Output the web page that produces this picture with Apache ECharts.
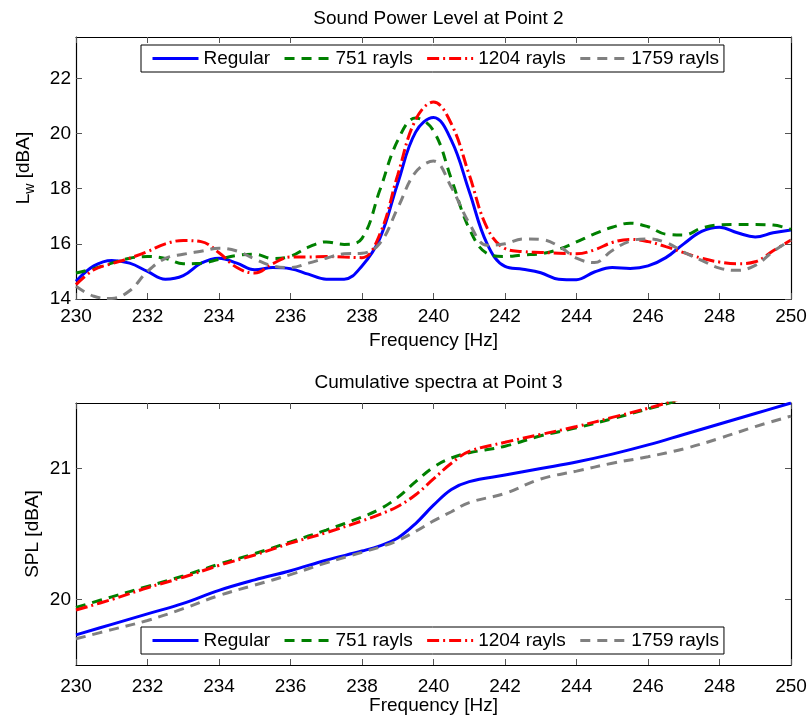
<!DOCTYPE html>
<html>
<head>
<meta charset="utf-8">
<script src="https://cdn.jsdelivr.net/npm/echarts@6/dist/echarts.min.js"></script>
<style>html,body{margin:0;padding:0;background:#fff}#c{width:808px;height:718px}</style>
</head>
<body>
<div id="c"></div>
<script>
// ---------- data ----------
const seriesNames = ['Regular', '751 rayls', '1204 rayls', '1759 rayls'];
const xTicks = [230, 232, 234, 236, 238, 240, 242, 244, 246, 248, 250];
const yTicksTop = [14, 16, 18, 20, 22];
const yTicksBottom = [20, 21];

// Top chart: Sound Power Level at Point 2
const freqTop = [230,230.5,231,231.5,232,232.5,233,233.5,234,234.5,235,235.5,236,236.5,237,237.5,238,238.5,239,239.5,240,240.5,241,241.5,242,242.5,243,243.5,244,244.5,245,245.5,246,246.5,247,247.5,248,248.5,249,249.5,250];
const regularTop = [14.64,15.2,15.4,15.3,15.0,14.72,14.85,15.3,15.48,15.3,15.06,15.14,15.1,14.9,14.72,14.72,15.2,16.2,18.2,20.05,20.58,19.75,17.9,16.0,15.18,15.08,14.95,14.72,14.7,14.98,15.14,15.11,15.2,15.5,16.0,16.45,16.6,16.4,16.25,16.4,16.5];
const r751Top = [14.94,15.1,15.3,15.48,15.54,15.47,15.28,15.3,15.44,15.58,15.62,15.47,15.55,15.88,16.07,15.98,16.2,17.95,19.75,20.56,20.1,18.35,16.55,15.65,15.54,15.6,15.64,15.8,16.07,16.36,16.6,16.75,16.62,16.35,16.32,16.57,16.69,16.7,16.7,16.68,16.52];
const r1204Top = [14.52,15.06,15.28,15.48,15.72,16.0,16.12,16.08,15.68,15.14,14.94,15.28,15.52,15.52,15.54,15.52,15.5,16.35,18.5,20.5,21.14,20.35,18.5,16.58,15.83,15.72,15.69,15.66,15.64,15.78,16.05,16.16,16.08,15.9,15.68,15.48,15.34,15.28,15.35,15.75,16.14];
const r1759Top = [14.46,14.1,14.02,14.3,15.0,15.47,15.62,15.73,15.84,15.74,15.45,15.2,15.14,15.3,15.48,15.64,15.66,16.02,17.3,18.6,19.0,18.05,16.75,15.95,16.0,16.18,16.16,15.92,15.48,15.32,15.76,16.1,16.18,16.05,15.7,15.4,15.12,15.04,15.22,15.72,16.14];

// Bottom chart: Cumulative spectra at Point 3
const freqBottom = [230,231,232,233,234,235,236,237,238,238.5,239,239.5,240,240.5,241,242,243,244,245,246,247,248,249,250];
const regularBottom = [19.73,19.81,19.89,19.97,20.07,20.15,20.22,20.3,20.37,20.41,20.47,20.58,20.72,20.84,20.9,20.95,21.0,21.05,21.11,21.18,21.26,21.34,21.42,21.5];
const r1759Bottom = [19.70,19.77,19.84,19.93,20.03,20.11,20.19,20.28,20.36,20.4,20.45,20.52,20.6,20.67,20.74,20.81,20.92,20.98,21.04,21.09,21.15,21.23,21.32,21.40];
const freqBottomShort = [230,231,232,233,234,235,236,237,238,238.5,239,239.5,240,240.5,241,242,243,244,245,246,247];
const r751Bottom = [19.94,20.02,20.1,20.18,20.27,20.35,20.44,20.53,20.63,20.69,20.78,20.9,21.01,21.08,21.12,21.17,21.25,21.31,21.38,21.455,21.53];
const r1204Bottom = [19.92,20.0,20.09,20.17,20.26,20.34,20.43,20.51,20.6,20.65,20.71,20.8,20.92,21.04,21.13,21.2,21.26,21.32,21.39,21.46,21.54];

// ---------- styles ----------
const FONT = 'Liberation Sans, Arial, Helvetica, sans-serif';
const FS = 19;
const colors = ['#0000ff', '#008000', '#ff0000', '#808080'];
const dashes = ['solid', [10, 7], [12, 4, 2, 4], [10, 7]];

function zip(xs, ys) { return xs.map((x, i) => [x, ys[i]]); }

function xAx(grid, pos, labelMargin, nameGap) {
  const bottom = pos === 'bottom';
  return {
    type: 'value', gridIndex: grid, position: pos, min: 230, max: 250, interval: 2,
    name: bottom ? 'Frequency [Hz]' : '', nameLocation: 'middle', nameGap: nameGap, nameMoveOverlap: false,
    nameTextStyle: { fontSize: FS, color: '#000', fontFamily: FONT },
    axisLine: { show: true, onZero: false, lineStyle: { color: '#000', width: 1.2 } },
    axisTick: { show: true, inside: true, length: 6, customValues: xTicks, lineStyle: { color: '#555', width: 1 } },
    axisLabel: { show: bottom, customValues: xTicks, fontSize: FS, color: '#000', fontFamily: FONT, margin: labelMargin },
    splitLine: { show: false }
  };
}
function yAx(grid, pos, min, max, ticks, name, nameGap) {
  const left = pos === 'left';
  return {
    type: 'value', gridIndex: grid, position: pos, min: min, max: max,
    name: left ? name : '', nameLocation: 'middle', nameGap: nameGap, nameRotate: 90, nameMoveOverlap: false,
    nameTextStyle: {
      fontSize: FS, color: '#000', fontFamily: FONT, lineHeight: 26,
      rich: { sub: { fontSize: 14, fontFamily: FONT, color: '#000', verticalAlign: 'bottom', lineHeight: 12 } }
    },
    axisLine: { show: true, onZero: false, lineStyle: { color: '#000', width: 1.2 } },
    axisTick: { show: true, inside: true, length: 6, customValues: ticks, lineStyle: { color: '#555', width: 1 } },
    axisLabel: { show: left, customValues: ticks, fontSize: FS, color: '#000', fontFamily: FONT, margin: 5 },
    splitLine: { show: false }
  };
}
function line(name, idx, data, axis) {
  return {
    type: 'line', name: name, data: data, xAxisIndex: axis, yAxisIndex: axis,
    symbol: 'none', showSymbol: false, smooth: 0.4, clip: true, z: 2 + idx,
    lineStyle: { color: colors[idx], width: 3, type: dashes[idx], cap: 'butt' },
    itemStyle: { color: colors[idx] }, emphasis: { disabled: true }
  };
}
function legend(top) {
  return {
    top: top, left: 141, orient: 'horizontal', itemWidth: 46, itemHeight: 14, itemGap: 13,
    padding: [4, 5, 4, 10], borderColor: '#000', borderWidth: 1, backgroundColor: '#fff',
    textStyle: { fontSize: FS, color: '#000', fontFamily: FONT },
    itemStyle: { opacity: 0, borderWidth: 0 },
    lineStyle: { width: 3 },
    data: seriesNames, selectedMode: false, z: 20
  };
}

const chart = echarts.init(document.getElementById('c'), null, { renderer: 'canvas' });
chart.setOption({
  animation: false,
  backgroundColor: '#fff',
  textStyle: { fontFamily: FONT },
  title: [
    { text: 'Sound Power Level at Point 2', left: 433.5, textAlign: 'center', top: 4,
      textStyle: { fontSize: FS, fontWeight: 'normal', color: '#000', fontFamily: FONT } },
    { text: 'Cumulative spectra at Point 3', left: 433.5, textAlign: 'center', top: 368,
      textStyle: { fontSize: FS, fontWeight: 'normal', color: '#000', fontFamily: FONT } }
  ],
  legend: [legend(45), legend(627)],
  grid: [
    { left: 76, right: 17, top: 37, height: 262, containLabel: false, outerBoundsMode: 'none' },
    { left: 76, right: 17, top: 403, height: 262, containLabel: false, outerBoundsMode: 'none' }
  ],
  xAxis: [xAx(0, 'bottom', 8, 32), xAx(0, 'top', 8, 32), xAx(1, 'bottom', 12, 31), xAx(1, 'top', 12, 31)],
  yAxis: [
    yAx(0, 'left', 14, 23.5, yTicksTop, 'L{sub|w} [dBA]', 39),
    yAx(0, 'right', 14, 23.5, yTicksTop, '', 0),
    yAx(1, 'left', 19.5, 21.5, yTicksBottom, 'SPL [dBA]', 30),
    yAx(1, 'right', 19.5, 21.5, yTicksBottom, '', 0)
  ],
  series: [
    line(seriesNames[0], 0, zip(freqTop, regularTop), 0),
    line(seriesNames[1], 1, zip(freqTop, r751Top), 0),
    line(seriesNames[2], 2, zip(freqTop, r1204Top), 0),
    line(seriesNames[3], 3, zip(freqTop, r1759Top), 0),
    line(seriesNames[0], 0, zip(freqBottom, regularBottom), 2),
    line(seriesNames[1], 1, zip(freqBottomShort, r751Bottom), 2),
    line(seriesNames[2], 2, zip(freqBottomShort, r1204Bottom), 2),
    line(seriesNames[3], 3, zip(freqBottom, r1759Bottom), 2)
  ]
});
</script>
</body>
</html>
